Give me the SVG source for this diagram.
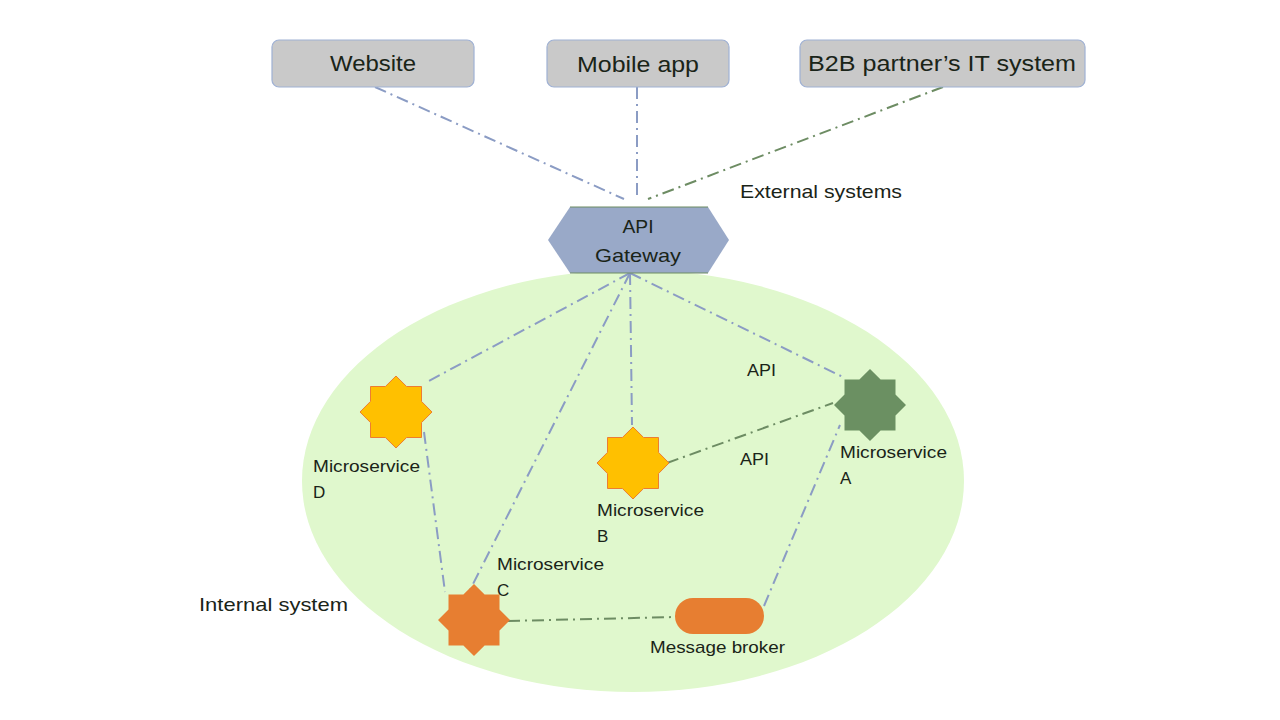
<svg xmlns="http://www.w3.org/2000/svg" width="1280" height="720" viewBox="0 0 1280 720">
<defs>
<style>
.box{fill:#c9c9c9;stroke:#9fb1d4;stroke-width:1.2}
.t{font-family:"Liberation Sans",Arial,sans-serif;fill:#1a2418}
.big{font-size:22px}
.mid{font-size:19px}
.sm{font-size:17px}
.ln{fill:none;stroke:#8b9cc4;stroke-width:2;stroke-dasharray:12 5 2 5}
.lg{stroke:#6d8c63}
</style>
<polygon id="star" points="0,-36 10.6,-25.5 25.5,-25.5 25.5,-10.6 36,0 25.5,10.6 25.5,25.5 10.6,25.5 0,36 -10.6,25.5 -25.5,25.5 -25.5,10.6 -36,0 -25.5,-10.6 -25.5,-25.5 -10.6,-25.5"/>
</defs>
<rect width="1280" height="720" fill="#ffffff"/>
<g id="internal-area">
<ellipse cx="633" cy="481" rx="331" ry="211" fill="#e0f8cd"/>
<text class="t mid" x="199" y="611" textLength="149" lengthAdjust="spacingAndGlyphs">Internal system</text>
</g>
<g id="connectors">
<line class="ln" x1="375" y1="87" x2="624" y2="199"/>
<line class="ln" x1="637" y1="87" x2="637" y2="199"/>
<line class="ln lg" x1="943" y1="87" x2="648" y2="199"/>
<line class="ln" x1="630" y1="273" x2="425" y2="383"/>
<line class="ln" x1="630" y1="273" x2="470" y2="590"/>
<line class="ln" x1="630" y1="273" x2="632" y2="425"/>
<line class="ln" x1="630" y1="273" x2="845" y2="378"/>
<line class="ln lg" x1="667" y1="463" x2="833" y2="403"/>
<line class="ln" x1="424" y1="432" x2="445" y2="592"/>
<line class="ln lg" x1="508" y1="621" x2="675" y2="617"/>
<line class="ln" x1="764" y1="606" x2="840" y2="425"/>
<text class="t sm" x="747" y="376" textLength="29" lengthAdjust="spacingAndGlyphs">API</text>
<text class="t sm" x="740" y="465" textLength="29" lengthAdjust="spacingAndGlyphs">API</text>
</g>
<g id="website">
<rect class="box" x="272" y="40" width="202" height="47" rx="7"/>
<text class="t big" x="373" y="71" text-anchor="middle" textLength="86" lengthAdjust="spacingAndGlyphs">Website</text>
</g>
<g id="mobile-app">
<rect class="box" x="547" y="40" width="182" height="47" rx="7"/>
<text class="t big" x="638" y="72" text-anchor="middle" textLength="122" lengthAdjust="spacingAndGlyphs">Mobile app</text>
</g>
<g id="b2b">
<rect class="box" x="800" y="40" width="285" height="47" rx="7"/>
<text class="t big" x="942" y="71" text-anchor="middle" textLength="268" lengthAdjust="spacingAndGlyphs">B2B partner’s IT system</text>
</g>
<g id="external-label">
<text class="t mid" x="740" y="198" textLength="162" lengthAdjust="spacingAndGlyphs">External systems</text>
</g>
<g id="api-gateway">
<polygon points="548,240 570,207 708,207 729,240 708,273 570,273" fill="#99a9c8"/>
<line x1="570" y1="207" x2="708" y2="207" stroke="#6d8c63" stroke-width="1"/>
<line x1="570" y1="273" x2="708" y2="273" stroke="#6d8c63" stroke-width="1"/>
<text class="t mid" x="638" y="233" text-anchor="middle" textLength="31" lengthAdjust="spacingAndGlyphs">API</text>
<text class="t mid" x="638" y="262" text-anchor="middle" textLength="86" lengthAdjust="spacingAndGlyphs">Gateway</text>
</g>
<g id="microservice-d">
<use href="#star" x="396" y="412" fill="#ffc000" stroke="#ed7d31" stroke-width="1"/>
<text class="t sm" x="313" y="472" textLength="107" lengthAdjust="spacingAndGlyphs">Microservice</text>
<text class="t sm" x="313" y="498">D</text>
</g>
<g id="microservice-b">
<use href="#star" x="633" y="463" fill="#ffc000" stroke="#ed7d31" stroke-width="1"/>
<text class="t sm" x="597" y="516" textLength="107" lengthAdjust="spacingAndGlyphs">Microservice</text>
<text class="t sm" x="597" y="542">B</text>
</g>
<g id="microservice-a">
<use href="#star" x="870" y="405" fill="#6b9062"/>
<text class="t sm" x="840" y="458" textLength="107" lengthAdjust="spacingAndGlyphs">Microservice</text>
<text class="t sm" x="840" y="484">A</text>
</g>
<g id="microservice-c">
<use href="#star" x="474" y="620" fill="#e77e31"/>
<text class="t sm" x="497" y="570" textLength="107" lengthAdjust="spacingAndGlyphs">Microservice</text>
<text class="t sm" x="497" y="596">C</text>
</g>
<g id="message-broker">
<rect x="675" y="598" width="89" height="36" rx="18" fill="#e77e31"/>
<text class="t sm" x="650" y="653" textLength="135" lengthAdjust="spacingAndGlyphs">Message broker</text>
</g>
</svg>
